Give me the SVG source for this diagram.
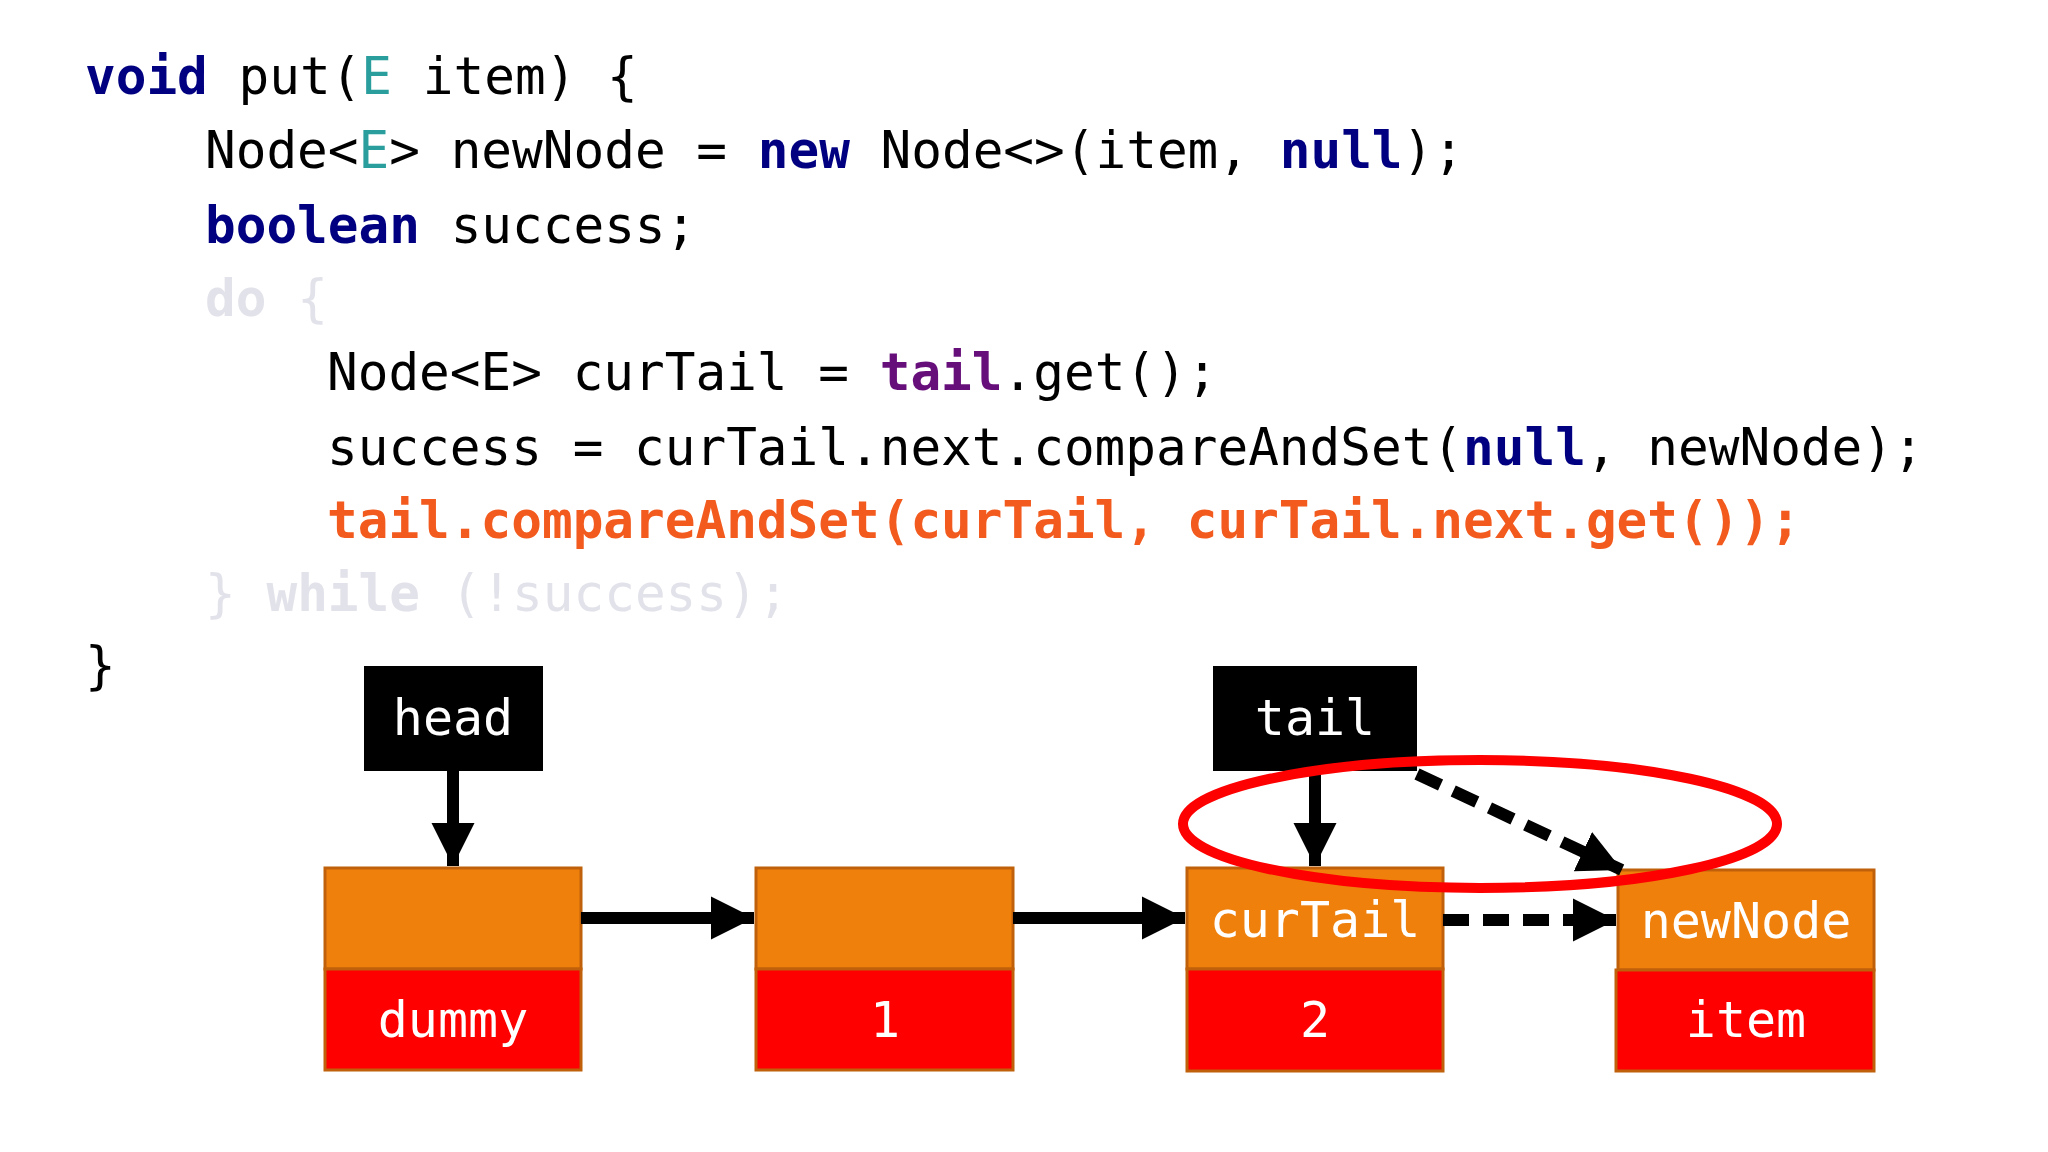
<svg xmlns="http://www.w3.org/2000/svg" width="2048" height="1152" viewBox="0 0 2048 1152">
<style>
.c{font-family:"DejaVu Sans Mono",monospace;font-size:51px;fill:#000}
.k{fill:#000080;font-weight:bold}
.t{fill:#2a9d9d}
.p{fill:#660e7a;font-weight:bold}
.r{fill:#f25a1e;font-weight:bold}
.f{fill:#e2e2ea}
.fb{fill:#e2e2ea;font-weight:bold}
.lbl{font-family:"DejaVu Sans Mono",monospace;font-size:50px;fill:#fff;text-anchor:middle}
.o{fill:#f0800c;stroke:#c0600a;stroke-width:3}
.red{fill:#fe0000;stroke:#c0600a;stroke-width:3}
.ln{stroke:#000;stroke-width:12;fill:none}
.ds{stroke:#000;stroke-width:12;fill:none;stroke-dasharray:26 14}
</style>
<defs>
<marker id="a" viewBox="0 0 10 10" refX="10" refY="5" markerWidth="3.6" markerHeight="3.6" orient="auto" markerUnits="strokeWidth"><path d="M0,0L10,5L0,10z" fill="#000"/></marker>
</defs>
<rect width="2048" height="1152" fill="#fff"/>
<g id="code">
<text class="c" x="85" y="94"><tspan class="k">void</tspan> put(<tspan class="t">E</tspan> item) {</text>
<text class="c" x="205" y="168">Node&lt;<tspan class="t">E</tspan>&gt; newNode = <tspan class="k">new</tspan> Node&lt;&gt;(item, <tspan class="k">null</tspan>);</text>
<text class="c" x="205" y="243"><tspan class="k">boolean</tspan> success;</text>
<text class="c f" x="205" y="316"><tspan class="fb">do</tspan> {</text>
<text class="c" x="327" y="390">Node&lt;E&gt; curTail = <tspan class="p">tail</tspan>.get();</text>
<text class="c" x="327" y="465">success = curTail.next.compareAndSet(<tspan class="k">null</tspan>, newNode);</text>
<text class="c r" x="327" y="538">tail.compareAndSet(curTail, curTail.next.get());</text>
<text class="c f" x="205" y="611">} <tspan class="fb">while</tspan> (!success);</text>
<text class="c" x="85" y="683">}</text>
</g>
<g id="head"><rect x="364" y="666" width="179" height="105" fill="#000"/><text class="lbl" x="453" y="735">head</text></g>
<g id="tail"><rect x="1213" y="666" width="204" height="105" fill="#000"/><text class="lbl" x="1315" y="735">tail</text></g>
<g id="dummy"><rect class="o" x="325" y="868" width="256" height="101"/><rect class="red" x="325" y="969" width="256" height="101"/><text class="lbl" x="453" y="1037">dummy</text></g>
<g id="n1"><rect class="o" x="756" y="868" width="257" height="101"/><rect class="red" x="756" y="969" width="257" height="101"/><text class="lbl" x="885" y="1037">1</text></g>
<g id="curTail"><rect class="o" x="1187" y="868" width="256" height="101"/><rect class="red" x="1187" y="969" width="256" height="102"/><text class="lbl" x="1315" y="937">curTail</text><text class="lbl" x="1315" y="1037">2</text></g>
<g id="newNode"><rect class="o" x="1618" y="870" width="256" height="100"/><rect class="red" x="1616" y="970" width="258" height="101"/><text class="lbl" x="1746" y="938">newNode</text><text class="lbl" x="1746" y="1037">item</text></g>
<g id="connectors">
<line class="ln" x1="453" y1="771" x2="453" y2="866" marker-end="url(#a)"/>
<line class="ln" x1="581" y1="918" x2="754" y2="918" marker-end="url(#a)"/>
<line class="ln" x1="1013" y1="918" x2="1185" y2="918" marker-end="url(#a)"/>
<line class="ds" x1="1443" y1="920" x2="1616" y2="920" marker-end="url(#a)"/>
<line class="ln" x1="1315" y1="771" x2="1315" y2="866" marker-end="url(#a)"/>
<line class="ds" x1="1417" y1="774" x2="1622" y2="870" marker-end="url(#a)"/>
</g>
<ellipse cx="1480" cy="824" rx="297" ry="64" fill="none" stroke="#fe0000" stroke-width="10"/>
</svg>
